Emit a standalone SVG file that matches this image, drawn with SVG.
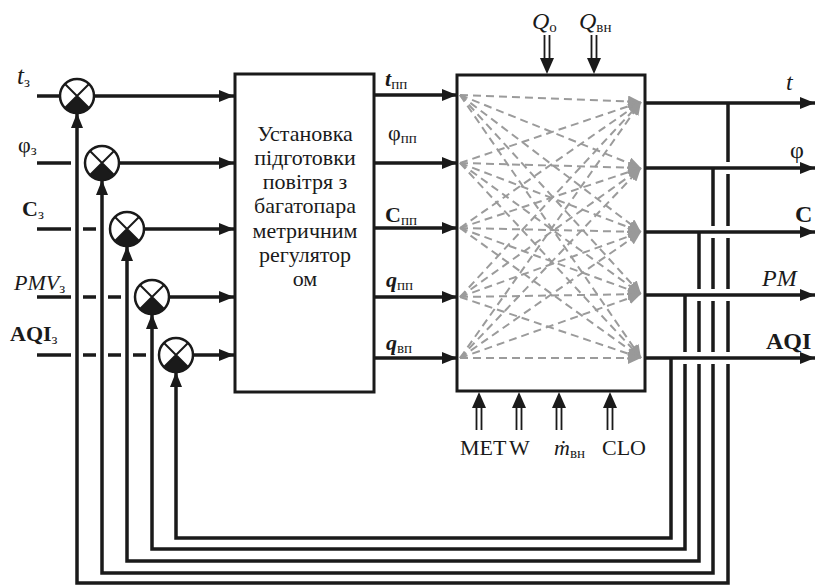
<svg xmlns="http://www.w3.org/2000/svg" width="816" height="585" viewBox="0 0 816 585">
<defs>
<style>
.ln{stroke:#1a1a1a;stroke-width:3.5;fill:none}
.blk{fill:#fff;stroke:#1a1a1a;stroke-width:3}
.dl{stroke:#9b9b9b;stroke-width:2;stroke-dasharray:8 5;fill:none}
.dbl{stroke:#1a1a1a;stroke-width:1.8;fill:none}
.t{font-family:"Liberation Serif","Times New Roman",serif;fill:#1a1a1a}
.lbl{font-size:22px}
.rl{font-size:24px}
.sub{font-size:15px}
.blt{font-size:22px;text-anchor:middle}
.it{font-style:italic}
.bd{font-weight:bold}
</style>
<marker id="ah" markerUnits="userSpaceOnUse" markerWidth="16" markerHeight="12" refX="15" refY="6" orient="auto"><path d="M0,0 L15,6 L0,12 z" fill="#1a1a1a"/></marker>
<marker id="gah" markerUnits="userSpaceOnUse" markerWidth="14" markerHeight="12" refX="13" refY="6" orient="auto"><path d="M0,0 L13,6 L0,12 z" fill="#999"/></marker>
<g id="sum">
<circle r="17" fill="#fff" stroke="#1a1a1a" stroke-width="2.5"/>
<path d="M0,0 L12,12 A17,17 0 0,1 -12,12 Z" fill="#1a1a1a"/>
<path d="M-12,-12 L12,12 M12,-12 L-12,12" stroke="#1a1a1a" stroke-width="2"/>
</g>
<path id="dn" d="M-7,0 L7,0 L0,16 z" fill="#1a1a1a"/>
</defs>

<g id="connectors">
<path class="ln" d="M37,96 H60"/>
<path class="ln" d="M37,163 H71"/>
<path class="ln" d="M37,229 H71 M83,229 H96"/>
<path class="ln" d="M37,297 H71 M83,297 H96 M108,297 H121"/>
<path class="ln" d="M37,355 H71 M83,355 H96 M108,355 H121 M133,355 H146"/>
<path class="ln" marker-end="url(#ah)" d="M94,96 H234"/>
<path class="ln" marker-end="url(#ah)" d="M119,163 H234"/>
<path class="ln" marker-end="url(#ah)" d="M144,229 H234"/>
<path class="ln" marker-end="url(#ah)" d="M169,297 H234"/>
<path class="ln" marker-end="url(#ah)" d="M193,355 H234"/>
<path class="ln" marker-end="url(#ah)" d="M374,95 H457"/>
<path class="ln" marker-end="url(#ah)" d="M374,163 H457"/>
<path class="ln" marker-end="url(#ah)" d="M374,228 H457"/>
<path class="ln" marker-end="url(#ah)" d="M374,297 H457"/>
<path class="ln" marker-end="url(#ah)" d="M374,358 H457"/>
<path class="ln" marker-end="url(#ah)" d="M645,103 H815"/>
<path class="ln" marker-end="url(#ah)" d="M645,168 H815"/>
<path class="ln" marker-end="url(#ah)" d="M645,232 H815"/>
<path class="ln" marker-end="url(#ah)" d="M645,295 H815"/>
<path class="ln" marker-end="url(#ah)" d="M645,358 H815"/>
<path class="ln" marker-end="url(#ah)" d="M671,358 V538 H176 V372"/>
<path class="ln" marker-end="url(#ah)" d="M685,295 V352 M685,364 V549 H152 V314"/>
<path class="ln" marker-end="url(#ah)" d="M699,232 V289 M699,301 V352 M699,364 V561 H127 V246"/>
<path class="ln" marker-end="url(#ah)" d="M713,168 V226 M713,238 V289 M713,301 V352 M713,364 V573 H102 V180"/>
<path class="ln" marker-end="url(#ah)" d="M728,103 V162 M728,174 V226 M728,238 V289 M728,301 V352 M728,364 V583 H77 V113"/>
<path class="dbl" d="M544.5,35 V60 M549.5,35 V60 M591.5,35 V60 M596.5,35 V60"/>
<use href="#dn" x="547" y="58"/>
<use href="#dn" x="594" y="58"/>
<path class="dbl" d="M476.5,430 V406 M481.5,430 V406 M516.5,430 V406 M521.5,430 V406 M556.5,430 V406 M561.5,430 V406 M607.5,430 V406 M612.5,430 V406"/>
<path d="M472,408 L486,408 L479,392 z M512,408 L526,408 L519,392 z M552,408 L566,408 L559,392 z M603,408 L617,408 L610,392 z" fill="#1a1a1a"/>
</g>

<g id="sum-t"><use href="#sum" x="77" y="96"/></g>
<g id="sum-phi"><use href="#sum" x="102" y="163"/></g>
<g id="sum-c"><use href="#sum" x="127" y="229"/></g>
<g id="sum-pmv"><use href="#sum" x="152" y="297"/></g>
<g id="sum-aqi"><use href="#sum" x="176" y="355"/></g>

<g id="block-controller">
<rect class="blk" x="235" y="74" width="139" height="318"/>
<text class="t blt" x="305" y="141">Установка</text>
<text class="t blt" x="305" y="165">підготовки</text>
<text class="t blt" x="305" y="189">повітря з</text>
<text class="t blt" x="305" y="213">багатопара</text>
<text class="t blt" x="305" y="238">метричним</text>
<text class="t blt" x="305" y="262">регулятор</text>
<text class="t blt" x="305" y="286">ом</text>
</g>

<g id="block-object">
<rect class="blk" x="457" y="75" width="188" height="316"/>
<g class="dl" marker-end="url(#gah)">
<path d="M460,95 L641,102"/><path d="M460,95 L641,168"/><path d="M460,95 L641,232"/><path d="M460,95 L641,294"/><path d="M460,95 L641,358"/>
<path d="M460,163 L641,102"/><path d="M460,163 L641,168"/><path d="M460,163 L641,232"/><path d="M460,163 L641,294"/><path d="M460,163 L641,358"/>
<path d="M460,228 L641,102"/><path d="M460,228 L641,168"/><path d="M460,228 L641,232"/><path d="M460,228 L641,294"/><path d="M460,228 L641,358"/>
<path d="M460,297 L641,102"/><path d="M460,297 L641,168"/><path d="M460,297 L641,232"/><path d="M460,297 L641,294"/><path d="M460,297 L641,358"/>
<path d="M460,358 L641,102"/><path d="M460,358 L641,168"/><path d="M460,358 L641,232"/><path d="M460,358 L641,294"/><path d="M460,358 L641,358"/>
</g>
</g>

<g id="labels">
<text class="t lbl" x="17" y="84"><tspan class="it" font-size="25">t</tspan><tspan class="sub" dy="3">з</tspan></text>
<text class="t lbl" x="18" y="152">φ<tspan class="sub" dy="3">з</tspan></text>
<text class="t lbl bd" x="22" y="216">C<tspan class="sub" dy="3" font-weight="normal">з</tspan></text>
<text class="t lbl it" x="14" y="290">PMV<tspan class="sub" dy="3" font-style="normal">з</tspan></text>
<text class="t lbl bd" x="10" y="341">AQI<tspan class="sub" dy="3" font-weight="normal">з</tspan></text>

<text class="t lbl" x="385" y="86"><tspan class="it bd">t</tspan><tspan class="sub" dy="3">пп</tspan></text>
<text class="t lbl" x="388" y="140">φ<tspan class="sub" dy="3">пп</tspan></text>
<text class="t lbl" x="385" y="222"><tspan class="bd">C</tspan><tspan class="sub" dy="3">пп</tspan></text>
<text class="t lbl" x="386" y="287"><tspan class="it bd">q</tspan><tspan class="sub" dy="3">пп</tspan></text>
<text class="t lbl" x="386" y="350"><tspan class="it bd">q</tspan><tspan class="sub" dy="3">вп</tspan></text>

<text class="t lbl" x="532" y="29"><tspan class="it" font-size="24">Q</tspan><tspan class="sub" dy="3">о</tspan></text>
<text class="t lbl" x="579" y="29"><tspan class="it" font-size="24">Q</tspan><tspan class="sub" dy="3">вн</tspan></text>

<text class="t lbl" x="460" y="455">MET</text>
<text class="t lbl" x="509" y="455">W</text>
<text class="t lbl" x="554" y="455"><tspan class="it">ṁ</tspan><tspan class="sub" dy="3">вн</tspan></text>
<text class="t lbl" x="602" y="455">CLO</text>

<text class="t rl it" x="786" y="90">t</text>
<text class="t rl" x="790" y="158">φ</text>
<text class="t rl bd" x="795" y="222">C</text>
<text class="t rl it" x="762" y="286">PM</text>
<text class="t rl bd" x="766" y="349">AQI</text>
</g>
</svg>
